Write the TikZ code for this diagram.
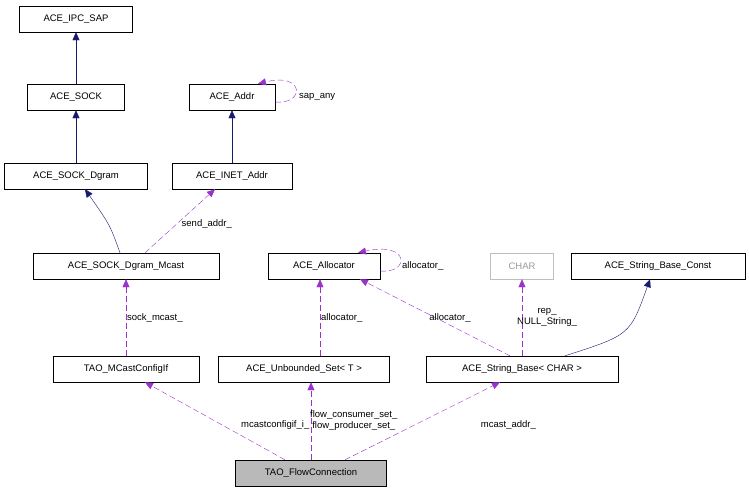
\documentclass[tikz,border=0pt]{standalone}
\usepackage{fontspec}
\setmainfont{Liberation Sans}
\usetikzlibrary{arrows.meta}
\definecolor{usecol}{RGB}{154,50,205}
\definecolor{inhcol}{RGB}{25,25,112}

\begin{document}
\begin{tikzpicture}[x=1pt, y=-1pt, font=\fontsize{9.5}{11}\selectfont,
	 cls/.style = {draw, minimum height=26pt, inner sep=0pt},
	 inherit/.style = {draw=inhcol, -{Triangle[length=8pt, width=7pt, fill=inhcol]}},
	 usage/.style = {draw=usecol, dash pattern=on 6pt off 3pt, -{Triangle[length=8pt, width=7pt, fill=usecol]}},
	 lbl/.style = {align=center, inner sep=1pt}]
	 \useasboundingbox (0, 0) rectangle (749, 491);
	 
	 \node[cls, minimum width=113pt] (ipcsap) at (76, 19) {ACE\_IPC\_SAP};
	 \node[cls, minimum width=97pt] (sock) at (76, 97) {ACE\_SOCK};
	 \node[cls, minimum width=143pt] (dgram) at (76, 176) {ACE\_SOCK\_Dgram};
	 \node[cls, minimum width=186pt] (mcast) at (126, 266) {ACE\_SOCK\_Dgram\_Mcast};
	 \node[cls, minimum width=146pt] (cfgif) at (126, 369) {TAO\_MCastConfigIf};
	 \node[cls, minimum width=86pt] (addr) at (232, 97) {ACE\_Addr};
	 \node[cls, minimum width=120pt] (inet) at (232, 176) {ACE\_INET\_Addr};
	 \node[cls, minimum width=112pt] (alloc) at (324, 266) {ACE\_Allocator};
	 \node[cls, minimum width=171pt] (uset) at (304, 369) {ACE\_Unbounded\_Set< T >};
	 \node[cls, minimum width=63pt, draw=gray!50, text=gray!80] (char) at (522, 266) {CHAR};
	 \node[cls, minimum width=174pt] (sbconst) at (658, 266) {ACE\_String\_Base\_Const};
	 \node[cls, minimum width=192pt] (sbase) at (522, 369) {ACE\_String\_Base< CHAR >};
	 \node[cls, minimum width=151pt, fill=gray!55] (flow) at (311, 473) {TAO\_FlowConnection};
	 
	 \draw[inherit] (sock) -- (ipcsap);
	 \draw[inherit] (dgram) -- (sock);
	 \draw[inherit] (mcast.north -| 120, 0) .. controls (110, 225) .. (dgram.south -| 85, 0);
	 \draw[inherit] (inet) -- (addr);
	 \draw[inherit] (sbase.north -| 565, 0) .. controls (630, 335) .. (sbconst.south -| 650, 0);
	 
	 % self references
	 \draw[usage] (addr.east |- 0, 102) .. controls (305, 105) and (305, 72) .. (addr.north east -| 258, 0);
	 \node[lbl, anchor=west] (lsap) at (298, 97) {sap\_any};
	 \draw[usage] (alloc.east |- 0, 271) .. controls (410, 274) and (410, 241) .. (alloc.north east -| 358, 0);
	 \node[lbl, anchor=west] (lalloc) at (401, 266) {allocator\_};
	 
	 \draw[usage] (mcast.north -| 145, 0) -- (inet.south -| 215, 0) node[lbl, pos=0.45, right=4pt] (lsend) {send\_addr\_};
	 \draw[usage] (cfgif) -- (mcast) node[lbl, midway, right=0pt] (lsock) {sock\_mcast\_};
	 \draw[usage] (uset.north -| 320, 0) -- (alloc.south -| 320, 0) node[lbl, midway, right=0pt] (lall2) {allocator\_};
	 \draw[usage] (sbase.north -| 510, 0) -- (alloc.south -| 360, 0) node[lbl, pos=0.4, above=2pt] (lall3) {allocator\_};
	 \draw[usage] (sbase) -- (char) node[lbl, midway, right=-6pt] (lrep) {rep\_\\NULL\_String\_};
	 \draw[usage] (flow.north -| 285, 0) -- (cfgif.south -| 145, 0) node[lbl, pos=0.45, right=18pt] (lcfg) {mcastconfigif\_i\_};
	 \draw[usage] (flow.north -| 311, 0) -- (uset.south -| 311, 0) node[lbl, midway, right=-2pt] (lflow) {flow\_consumer\_set\_\\flow\_producer\_set\_};
	 \draw[usage] (flow.north -| 345, 0) -- (sbase.south -| 500, 0) node[lbl, pos=0.45, right=65pt] (lmc) {mcast\_addr\_};
\end{tikzpicture}
\end{document}
